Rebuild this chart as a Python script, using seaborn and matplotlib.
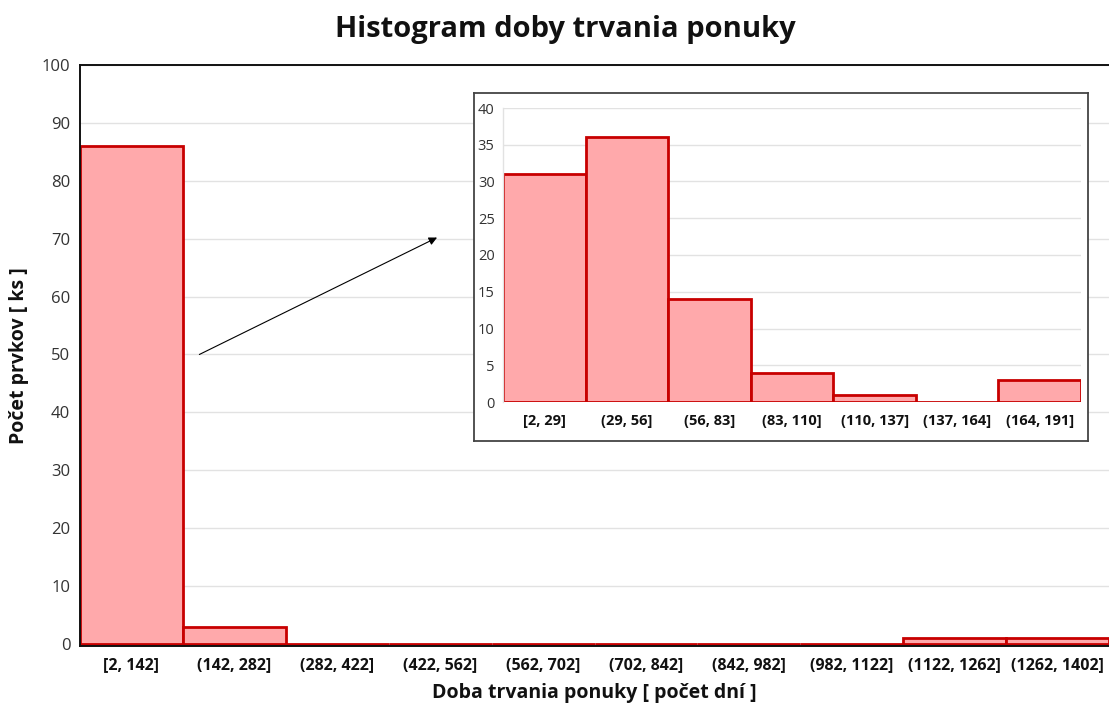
import matplotlib
matplotlib.use("Agg")
import matplotlib.pyplot as plt
import seaborn as sns
import pandas as pd

# Main histogram: offer duration bins (days) and counts
main_bins = ["[2, 142]", "(142, 282]", "(282, 422]", "(422, 562]", "(562, 702]",
             "(702, 842]", "(842, 982]", "(982, 1122]", "(1122, 1262]", "(1262, 1402]"]
main_counts = [86, 3, 0, 0, 0, 0, 0, 0, 1, 1]

# Detail of the lower range
detail_bins = ["[2, 29]", "(29, 56]", "(56, 83]", "(83, 110]", "(110, 137]",
               "(137, 164]", "(164, 191]"]
detail_counts = [31, 36, 14, 4, 1, 0, 3]

main_ticks = list(range(0, 101, 10))
detail_ticks = list(range(0, 41, 5))

title = "Histogram doby trvania ponuky"
x_label = "Doba trvania ponuky [ počet dní ]"
y_label = "Počet prvkov [ ks ]"

sns.set_theme(style="white")
plt.rcParams["font.family"] = ["Open Sans", "DejaVu Sans"]

FILL = "#ffa9ab"
EDGE = "#c80000"
GRID = "#e2e2e2"

W, H = 1109, 711
fig = plt.figure(figsize=(W / 100, H / 100), dpi=100)
fig.patch.set_facecolor("white")


def frac(x0, y0, x1, y1):
    return [x0 / W, 1 - y1 / H, (x1 - x0) / W, (y1 - y0) / H]


# ---- main axes ----
ax = fig.add_axes(frac(80, 65, 1109, 646), zorder=0)
main_df = pd.DataFrame({"bin": main_bins, "count": main_counts})
sns.barplot(data=main_df, x="bin", y="count", ax=ax, width=1.0, color=FILL,
            saturation=1, edgecolor=EDGE, linewidth=2.0, zorder=2)
# small margin below zero keeps the red baseline of empty bins visible
ax.set_ylim(-0.35, 100)
ax.set_xlim(-0.5, len(main_bins) - 0.5)
ax.set_yticks(main_ticks)
ax.yaxis.grid(True, color=GRID, linewidth=1.0, zorder=0)
ax.set_axisbelow(True)
ax.tick_params(axis="y", length=0, pad=7, labelsize=12, labelcolor="#333333")
ax.tick_params(axis="x", length=0, pad=8, labelsize=11.5, labelcolor="#111111")
for lab in ax.get_xticklabels():
    lab.set_fontweight("bold")
for side in ["left", "top", "bottom"]:
    ax.spines[side].set_visible(True)
    ax.spines[side].set_color("#111111")
    ax.spines[side].set_linewidth(1.4)
ax.spines["right"].set_visible(False)
ax.spines["bottom"].set_zorder(3)
ax.set_xlabel(x_label, fontsize=14, fontweight="bold", color="#111111", labelpad=7)
ax.set_ylabel(y_label, fontsize=14, fontweight="bold", color="#111111", labelpad=9)

# arrow pointing from the first bin to the detail view
ax.annotate("", xy=(2.97, 70.2), xytext=(0.66, 50),
            arrowprops=dict(arrowstyle="-|>", color="black", lw=0.8,
                            mutation_scale=12, shrinkA=0, shrinkB=0))

# ---- detail frame ----
frame = fig.add_axes(frac(474, 93, 1088, 441), zorder=2)
frame.set_facecolor("white")
frame.set_xticks([])
frame.set_yticks([])
for side in frame.spines.values():
    side.set_visible(True)
    side.set_color("#444444")
    side.set_linewidth(1.3)

# ---- detail axes ----
ins = fig.add_axes(frac(503, 108, 1081, 402), zorder=3)
ins.set_facecolor("none")
detail_df = pd.DataFrame({"bin": detail_bins, "count": detail_counts})
sns.barplot(data=detail_df, x="bin", y="count", ax=ins, width=1.0, color=FILL,
            saturation=1, edgecolor=EDGE, linewidth=2.0, zorder=2)
ins.set_ylim(0, 40)
ins.set_xlim(-0.5, len(detail_bins) - 0.5)
ins.set_yticks(detail_ticks)
ins.yaxis.grid(True, color=GRID, linewidth=1.0, zorder=0)
ins.set_axisbelow(True)
ins.tick_params(axis="y", length=0, pad=6, labelsize=10.5, labelcolor="#333333")
ins.tick_params(axis="x", length=0, pad=9, labelsize=10.5, labelcolor="#111111")
for lab in ins.get_xticklabels():
    lab.set_fontweight("bold")
for side in ["top", "right", "bottom"]:
    ins.spines[side].set_visible(False)
ins.spines["left"].set_visible(True)
ins.spines["left"].set_color(GRID)
ins.spines["left"].set_linewidth(1.0)
ins.set_xlabel("")
ins.set_ylabel("")

fig.text(565 / W, 1 - 30 / H, title, ha="center", va="center",
         fontsize=21, fontweight="bold", color="#111111")

fig.savefig("out.png", dpi=100)
